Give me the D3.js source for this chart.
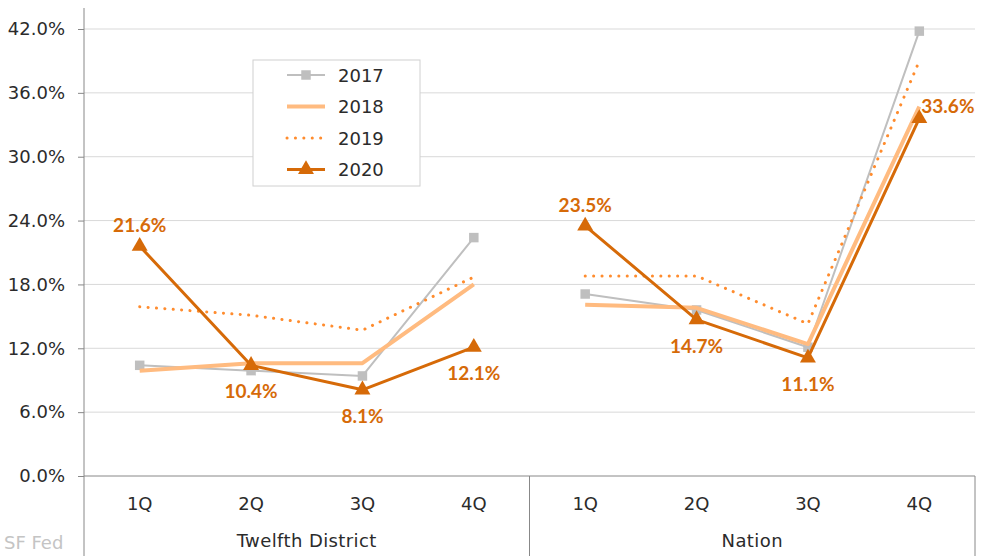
<!DOCTYPE html>
<html><head><meta charset="utf-8">
<script src="https://cdn.jsdelivr.net/npm/d3@7"></script>
<style>body{margin:0;background:#fff}svg{display:block}text{font-family:"DejaVu Sans","Noto Sans",sans-serif}</style>
</head><body><svg id="c" width="993" height="556"></svg>
<script>
const groups = ["Twelfth District", "Nation"];
const quarters = ["1Q", "2Q", "3Q", "4Q"];
const yTicks = [0, 6, 12, 18, 24, 30, 36, 42];
const s2017 = [10.4, 9.9, 9.4, 22.4, 17.1, 15.6, 12.1, 41.8];
const s2018 = [9.9, 10.6, 10.6, 18.0, 16.1, 15.8, 12.4, 34.7];
const s2019 = [15.9, 15.1, 13.7, 18.7, 18.8, 18.8, 14.3, 39.0];
const s2020 = [21.6, 10.4, 8.1, 12.1, 23.5, 14.7, 11.1, 33.6];
const labelPos = ["above", "below", "below", "below", "above", "below", "below", "right"];

const svg = d3.select("#c");
const L = 84, R = 975, T = 29, B = 476;
const FS = 18;
const TXT = "#2b2b2b";
const cats = [];
groups.forEach(g => quarters.forEach(q => cats.push(g + "|" + q)));
const x = d3.scaleBand().domain(cats).range([L, R]);
const y = d3.scaleLinear().domain([0, 42]).range([B, T]);

// gridlines
svg.append("g").selectAll("line").data(yTicks.filter(d => d > 0)).join("line")
  .attr("x1", L).attr("x2", R).attr("y1", d => y(d)).attr("y2", d => y(d))
  .attr("stroke", "#d9d9d9").attr("stroke-width", 1);

// y axis
const ya = svg.append("g").attr("transform", `translate(${L},0)`)
  .call(d3.axisLeft(y).tickValues(yTicks).tickFormat(d => d.toFixed(1) + "%").tickSize(6).tickPadding(13));
ya.select(".domain").remove();
ya.selectAll(".tick line").attr("stroke", "#888");
ya.selectAll("text").attr("font-size", FS).attr("fill", TXT);
svg.append("line").attr("x1", L).attr("x2", L).attr("y1", 8).attr("y2", 556).attr("stroke", "#888");

// x axis
svg.append("line").attr("x1", L).attr("x2", R).attr("y1", B).attr("y2", B).attr("stroke", "#888");
svg.append("g").selectAll("text").data(cats).join("text")
  .attr("x", d => x(d) + x.bandwidth() / 2).attr("y", 510).attr("text-anchor", "middle")
  .attr("font-size", FS).attr("fill", TXT).text(d => d.split("|")[1]);
groups.forEach((g, i) => {
  const x0 = x(g + "|1Q"), x1 = x(g + "|4Q") + x.bandwidth();
  svg.append("text").attr("x", (x0 + x1) / 2).attr("y", 547).attr("text-anchor", "middle")
    .attr("font-size", FS).attr("fill", TXT).attr("letter-spacing", 0.4).text(g);
  svg.append("line").attr("x1", x1).attr("x2", x1).attr("y1", B).attr("y2", 556).attr("stroke", "#888");
});

svg.append("text").attr("x", 4).attr("y", 549).attr("font-size", FS).attr("fill", "#c4c4c4").text("SF Fed");

const series = [
  {name: "2017", data: s2017, color: "#bfbfbf", width: 2, dash: null, marker: "square"},
  {name: "2018", data: s2018, color: "#ffbb80", width: 4, dash: null, marker: null},
  {name: "2019", data: s2019, color: "#ff8c2e", width: 3, dash: "0.1 8.3", marker: null, cap: "round"},
  {name: "2020", data: s2020, color: "#d66a08", width: 3, dash: null, marker: "triangle"}
];

series.forEach(s => {
  groups.forEach((g, gi) => {
    const pts = quarters.map((q, qi) => [x(g + "|" + q) + x.bandwidth() / 2, y(s.data[gi * 4 + qi])]);
    svg.append("path").attr("d", d3.line()(pts)).attr("fill", "none")
      .attr("stroke", s.color).attr("stroke-width", s.width)
      .attr("stroke-dasharray", s.dash).attr("stroke-linecap", s.cap || "butt")
      .attr("stroke-linejoin", "round");
    if (s.marker) {
      const sym = d3.symbol().type(s.marker === "square" ? d3.symbolSquare : d3.symbolTriangle)
        .size(s.marker === "square" ? 90 : 110);
      svg.append("g").selectAll("path").data(pts).join("path")
        .attr("transform", d => `translate(${d[0]},${d[1]})`).attr("d", sym()).attr("fill", s.color);
    }
  });
});

// data labels for 2020
svg.append("g").selectAll("text").data(cats).join("text")
  .each(function(d, i) {
    const cx = x(d) + x.bandwidth() / 2, cy = y(s2020[i]);
    const t = d3.select(this);
    const p = labelPos[i];
    if (p === "above") t.attr("x", cx).attr("y", cy - 14).attr("text-anchor", "middle");
    else if (p === "below") t.attr("x", cx).attr("y", cy + 33).attr("text-anchor", "middle");
    else t.attr("x", cx + 2).attr("y", cy - 5).attr("text-anchor", "start");
  })
  .style("font-family", "Lato, sans-serif")
  .attr("font-size", 19).attr("font-weight", "bold").attr("fill", "#d66a08")
  .text((d, i) => s2020[i].toFixed(1) + "%");

// legend
const lg = svg.append("g");
lg.append("rect").attr("x", 253).attr("y", 60).attr("width", 167).attr("height", 126)
  .attr("fill", "#fff").attr("stroke", "#d0d0d0");
series.forEach((s, i) => {
  const ly = 75 + i * 31.5;
  lg.append("line").attr("x1", 287).attr("x2", 325).attr("y1", ly).attr("y2", ly)
    .attr("stroke", s.color).attr("stroke-width", s.width).attr("stroke-dasharray", s.dash)
    .attr("stroke-linecap", s.cap || "butt");
  if (s.marker) {
    const sym = d3.symbol().type(s.marker === "square" ? d3.symbolSquare : d3.symbolTriangle)
      .size(s.marker === "square" ? 90 : 110);
    lg.append("path").attr("transform", `translate(306,${ly})`).attr("d", sym()).attr("fill", s.color);
  }
  lg.append("text").attr("x", 338).attr("y", ly + 6.5).attr("font-size", FS).attr("fill", TXT).text(s.name);
});
</script></body></html>
